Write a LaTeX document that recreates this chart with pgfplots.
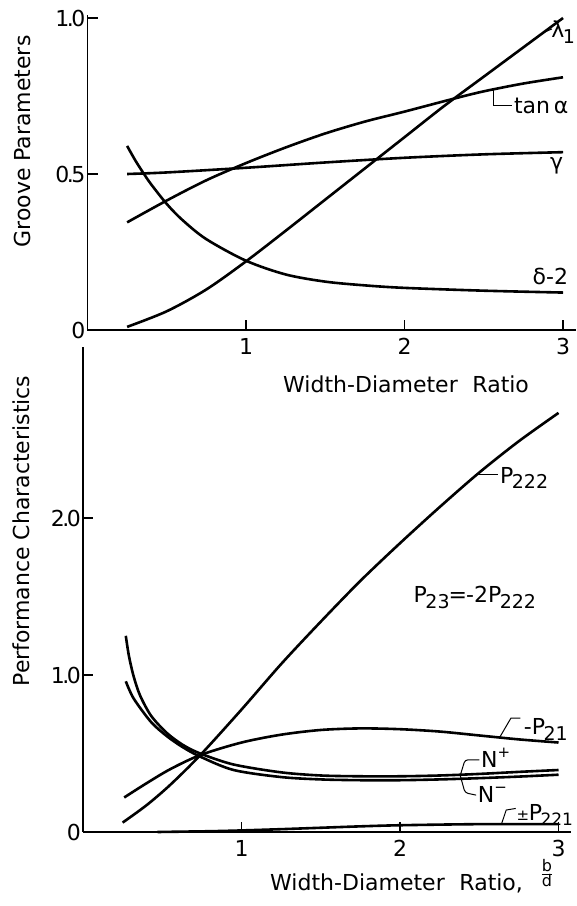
\documentclass[border=0pt]{standalone}
\usepackage{fontspec}
\setmainfont{DejaVu Sans}
\usepackage{pgfplots}
\pgfplotsset{compat=1.18}
\newcommand\sbs[1]{\kern-1.5pt\raisebox{-0.45ex}{\fontsize{19}{19}\selectfont #1}}
\newcommand\sbss[1]{\kern-1.5pt\raisebox{-0.45ex}{\fontsize{17}{17}\selectfont #1}}
\newcommand\sps[1]{\raisebox{0.85ex}{\fontsize{15}{15}\selectfont #1}}
\newcommand\lbl{\fontsize{22}{26}\selectfont}
\newcommand\dd[2]{#1\kern-2.5pt.\kern-2.5pt#2}

\begin{document}
\begin{tikzpicture}
\useasboundingbox (0,0) rectangle (577pt,906pt);
\pgfplotsset{
  myax/.style={
    scale only axis, axis lines=left, axis line style={-, line width=1.3pt},
    xmin=0, xmax=3.08, ymin=0,
    xtick={1,2,3}, xticklabels={1,2,3},
    tick align=inside, major tick length=10pt, tick style={black, line width=1.2pt},
    tick label style={font=\fontsize{22}{22}\selectfont, inner sep=1pt},
    xticklabel style={yshift=-7pt},
    yticklabel style={xshift=-1pt},
    clip=false,
    cycle list={black,line width=2.6pt,smooth,mark=none\\},
    anchor=south west,
  }
}
\begin{axis}[myax, at={(87.5pt,576pt)}, width=488.2pt, height=315.1pt, ymax=1.01,
   ytick={0,0.5,1}, yticklabels={0,\dd{0}{5},\dd{1}{0}}]
\addplot coordinates {(0.25,0.01) (0.5,0.06) (0.75,0.13) (1.0,0.22) (1.25,0.318) (1.5,0.418) (1.75,0.518) (2.0,0.618) (2.25,0.718) (2.5,0.812) (2.75,0.906) (3.0,1.0)};
\addplot coordinates {(0.25,0.345) (0.5,0.415) (0.75,0.48) (1.0,0.535) (1.25,0.585) (1.5,0.63) (1.75,0.668) (2.0,0.70) (2.3,0.74) (2.5,0.765) (2.75,0.79) (3.0,0.81)};
\addplot coordinates {(0.25,0.50) (0.5,0.505) (1.0,0.52) (1.5,0.537) (2.0,0.552) (2.5,0.563) (3.0,0.57)};
\addplot coordinates {(0.25,0.59) (0.3,0.545) (0.35,0.505) (0.4,0.468) (0.5,0.404) (0.6,0.352) (0.75,0.291) (1.0,0.222) (1.25,0.178) (1.5,0.155) (1.75,0.143) (2.0,0.135) (2.5,0.126) (3.0,0.12)};
\draw[line width=1pt] (axis cs:2.87,0.952) -- (axis cs:2.93,0.965);
\node[anchor=west, inner sep=0pt, font=\lbl] at (axis cs:2.925,0.955) {λ\sbs{1}};
\draw[line width=1pt] (axis cs:2.56,0.771) -- (axis cs:2.56,0.718) -- (axis cs:2.68,0.718);
\node[anchor=west, inner sep=0pt, font=\lbl] at (axis cs:2.69,0.718) {tan\,α};
\node[inner sep=0pt, font=\lbl] at (axis cs:2.96,0.526) {γ};
\node[inner sep=0pt, font=\lbl] at (axis cs:2.92,0.17) {δ-2};
\end{axis}

\begin{axis}[myax, at={(83pt,74pt)}, width=488.2pt, height=485pt, ymax=3.09,
   ytick={0,1,2}, yticklabels={0,\dd{1}{0},\dd{2}{0}}]
\addplot coordinates {(0.25,0.06) (0.4,0.17) (0.55,0.30) (0.74,0.49) (1.0,0.78) (1.25,1.07) (1.5,1.34) (1.75,1.60) (2.0,1.84) (2.25,2.07) (2.5,2.29) (2.75,2.49) (3.0,2.67)};
\addplot coordinates {(0.26,0.22) (0.4,0.31) (0.55,0.40) (0.74,0.49) (1.0,0.57) (1.25,0.62) (1.5,0.65) (1.75,0.66) (2.0,0.655) (2.25,0.64) (2.5,0.615) (2.75,0.59) (3.0,0.57)};
\addplot coordinates {(0.27,1.25) (0.29,1.12) (0.32,0.99) (0.36,0.87) (0.43,0.74) (0.53,0.63) (0.63,0.555) (0.74,0.50) (0.95,0.43) (1.25,0.38) (1.5,0.36) (1.75,0.355) (2.0,0.355) (2.25,0.36) (2.5,0.37) (2.75,0.383) (3.0,0.395)};
\addplot coordinates {(0.27,0.96) (0.32,0.85) (0.43,0.70) (0.53,0.61) (0.63,0.54) (0.74,0.48) (0.95,0.395) (1.25,0.35) (1.5,0.335) (1.75,0.33) (2.0,0.33) (2.25,0.335) (2.5,0.343) (2.75,0.353) (3.0,0.365)};
\addplot coordinates {(0.47,0.0) (0.8,0.005) (1.0,0.01) (1.25,0.018) (1.5,0.027) (1.75,0.036) (2.0,0.043) (2.5,0.05) (3.0,0.05)};
% annotations
\draw[line width=1pt] (axis cs:2.48,2.28) -- (axis cs:2.62,2.28);
\node[anchor=base west, inner sep=0pt, font=\lbl] at (axis cs:2.63,2.22) {P\sbs{222}};
\node[anchor=base west, inner sep=0pt, font=\lbl] at (axis cs:2.085,1.46) {P\sbs{23}\kern-1pt=\kern-1pt-2P\sbs{222}};
\draw[line width=1pt] (axis cs:2.63,0.605) -- (axis cs:2.70,0.726) -- (axis cs:2.76,0.726);
\node[anchor=base west, inner sep=0pt, font=\lbl] at (axis cs:2.78,0.62) {-P\sbs{21}};
\draw[line width=1pt, rounded corners=3pt] (axis cs:2.38,0.36) -- (axis cs:2.41,0.46) -- (axis cs:2.50,0.46);
\node[anchor=base west, inner sep=0pt, font=\lbl] at (axis cs:2.51,0.41) {N\sps{+}};
\draw[line width=1pt, rounded corners=3pt] (axis cs:2.38,0.36) -- (axis cs:2.41,0.25) -- (axis cs:2.48,0.235);
\node[anchor=base west, inner sep=0pt, font=\lbl] at (axis cs:2.49,0.185) {N\sps{−}};
\draw[line width=1pt] (axis cs:2.64,0.05) -- (axis cs:2.67,0.14) -- (axis cs:2.73,0.15);
\node[anchor=base west, inner sep=0pt, font=\lbl] at (axis cs:2.735,0.076) {{\fontsize{15}{15}\selectfont ±}\kern-0.5pt P\sbss{221}};
\end{axis}

% axis titles
\node[anchor=base west, inner sep=0pt, font=\lbl] at (283pt,513pt) {Width-Diameter\hspace{0.35em} Ratio};
\node[anchor=base west, inner sep=0pt, font=\lbl] at (270pt,16pt) {Width-Diameter\hspace{0.35em} Ratio,};
\node[inner sep=0pt, font=\fontsize{16}{16}\selectfont] at (547pt,33pt) {$\frac{\mbox{b}}{\mbox{d}}$};
\node[rotate=90, anchor=base, inner sep=0pt, font=\lbl] at (31pt,764.5pt) {Groove Parameters};
\node[rotate=90, anchor=base, inner sep=0pt, font=\lbl] at (29pt,375pt) {Performance Characteristics};
\end{tikzpicture}
\end{document}
